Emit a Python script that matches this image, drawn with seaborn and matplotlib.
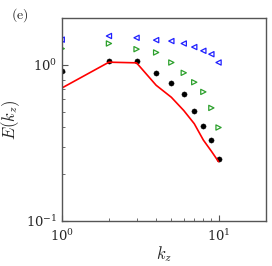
import numpy as np
import matplotlib
matplotlib.use("Agg")
import matplotlib.pyplot as plt
import seaborn as sns
import pandas as pd

kz = [1, 2, 3, 4, 5, 6, 7, 8, 9, 10]
e_line = [0.71, 1.04, 1.03, 0.74, 0.62, 0.51, 0.42, 0.33, 0.28, 0.24]
e_dots = [0.915, 1.066, 1.066, 0.884, 0.763, 0.649, 0.509, 0.406, 0.330, 0.248]
e_green = [1.27, 1.37, 1.26, 1.20, 1.035, 0.889, 0.774, 0.671, 0.53, 0.397]
e_blue = [1.45, 1.53, 1.49, 1.44, 1.42, 1.37, 1.30, 1.23, 1.17, 1.035]

df = pd.DataFrame({"kz": kz, "line": e_line, "dots": e_dots,
                   "green": e_green, "blue": e_blue})

sns.set_style("ticks")
plt.rcParams["font.family"] = ["serif"]
plt.rcParams["mathtext.fontset"] = "cm"

fig = plt.figure(figsize=(2.72, 2.66), dpi=100)
ax = fig.add_axes([0.227, 0.169, 0.75, 0.764])

sns.lineplot(data=df, x="kz", y="line", color="red", lw=1.2, ax=ax)
sns.scatterplot(data=df, x="kz", y="dots", color="black", s=14, edgecolor="black", ax=ax)
sns.scatterplot(data=df, x="kz", y="green", marker=">", s=14, facecolor="none",
                edgecolor="#2ca02c", linewidth=0.9, ax=ax)
sns.scatterplot(data=df, x="kz", y="blue", marker="<", s=14, facecolor="none",
                edgecolor="#1f1fff", linewidth=0.9, ax=ax)

ax.set_xscale("log")
ax.set_yscale("log")
ax.set_xlim(1, 20)
ax.set_ylim(0.1, 2)
ax.set_xlabel(r"$k_z$", fontsize=12, labelpad=0)
ax.set_ylabel(r"$E(k_z)$", fontsize=12, labelpad=3)
ax.tick_params(which="both", direction="in", labelsize=9.5, color="#555555")
ax.tick_params(axis="x", pad=5)
ax.tick_params(axis="y", pad=3)
ax.tick_params(which="major", length=4)
ax.tick_params(which="minor", length=2)
for sp in ax.spines.values():
    sp.set_color("#555555")
    sp.set_linewidth(1.0)

fig.text(0.04, 0.93, r"$(\mathrm{e})$", fontsize=10)

fig.savefig("out.png", dpi=100)
